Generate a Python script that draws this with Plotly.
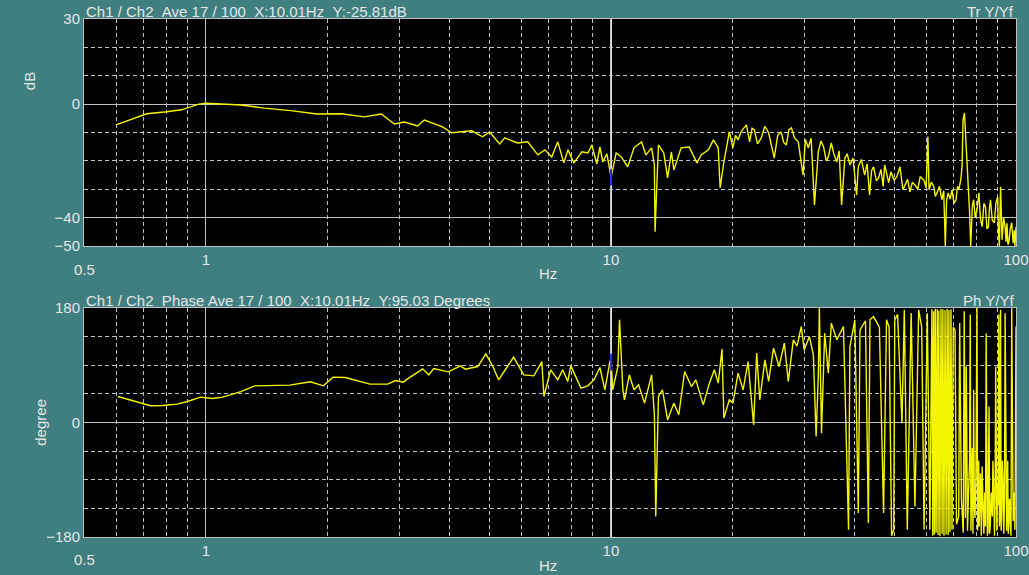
import plotly.graph_objects as go

# cursor readout
cursor_hz = 10.01
cursor_db = -25.81
cursor_deg = 95.03

# transfer function magnitude (Hz, dB)
mag_hz = [0.60, 0.714, 0.80, 0.87, 0.96, 1.0, 1.22, 1.39, 1.62, 1.88, 2.16, 2.46, 2.71, 2.92,
          3.09, 3.33, 3.46, 3.84, 4.04, 4.53, 4.82, 5.02, 5.31, 5.47, 5.88, 6.23, 6.60, 6.87,
          7.14, 7.39, 7.65, 7.83, 8.10, 8.48, 8.77, 8.97, 9.23, 9.39, 9.55, 9.77, 10.01, 10.3,
          10.6, 11.0, 11.4, 11.9, 12.2, 12.6, 12.8, 12.85, 13.0, 13.1, 13.5, 13.8, 14.1, 14.3,
          14.9, 15.6, 16.3, 16.7, 17.4, 17.9, 18.4, 18.6, 19.0, 19.6, 20.0, 20.3, 20.6, 21.0,
          21.6, 22.0, 22.3, 22.6, 23.0, 23.5, 24.0, 24.5, 25.3, 25.8, 26.3, 26.7, 27.1, 27.5,
          27.9, 28.4, 29.0, 29.8, 30.2, 30.7, 31.2, 31.8, 32.5, 33.0, 33.5, 34.0, 34.4, 35.0,
          35.5, 36.1, 36.6, 37.1, 37.8, 38.3, 38.9, 39.6, 40.4, 40.8, 41.5, 42.3, 42.9, 43.5,
          44.0, 44.5, 45.2, 45.8, 46.4, 47.0, 47.4, 48.0, 48.5, 49.1, 50.0, 50.8, 51.7, 52.6,
          53.2, 54.0, 54.7, 55.5, 56.3, 57.2, 58.0, 59.2, 60.0, 60.6, 61.0, 61.8, 62.7, 63.2,
          63.8, 64.7, 65.6, 66.3, 66.9, 67.4, 68.0, 68.8, 69.5, 70.3, 71.1, 71.7, 72.2, 73.0,
          73.6, 74.0, 74.6, 75.0, 75.5, 75.9, 76.3, 76.8, 77.3, 78.0, 78.6, 79.3, 80.1, 80.5,
          81.0, 81.7, 82.5, 83.3, 84.1, 84.8, 85.5, 86.0, 86.5, 87.4, 88.4, 89.2, 90.1, 90.5,
          91.0, 91.6, 92.4, 93.2, 94.0, 94.5, 95.0, 95.5, 96.0, 96.8, 97.6, 98.4, 99.0, 99.4,
          100.0]
mag_db = [-7.3, -3.4, -2.7, -2.0, 0.0, 0.3, -0.3, -1.4, -2.3, -3.5, -3.4, -4.5, -3.5, -7.0,
          -6.3, -7.7, -5.6, -8.0, -10.1, -9.4, -11.5, -9.8, -14.0, -11.9, -13.7, -13.3, -17.9, -16.1,
          -18.6, -13.3, -20.7, -16.1, -20.7, -16.8, -17.2, -14.4, -21.1, -15.1, -20.4, -17.5, -25.81, -17.2,
          -18.6, -22.1, -15.4, -13.3, -17.9, -15.4, -21.4, -45.0, -26.0, -14.4, -17.2, -26.0, -16.8, -23.2,
          -15.4, -15.1, -20.7, -17.9, -16.1, -12.6, -15.4, -29.5, -20.4, -9.8, -15.4, -11.0, -12.6, -9.5,
          -7.3, -13.3, -8.5, -9.1, -14.0, -11.9, -7.8, -10.1, -19.0, -11.0, -9.8, -13.5, -14.4, -9.0,
          -8.4, -12.0, -13.3, -25.0, -12.5, -15.4, -12.0, -35.5, -16.8, -13.0, -15.1, -20.0, -18.6, -13.7,
          -17.5, -20.4, -16.5, -35.5, -19.0, -17.5, -21.4, -19.0, -32.0, -22.1, -19.5, -25.0, -21.0, -32.0,
          -23.5, -22.1, -27.0, -26.0, -23.0, -29.0, -21.4, -25.5, -27.7, -23.9, -26.7, -25.6, -22.1, -30.2,
          -28.5, -26.5, -30.9, -27.5, -28.5, -30.0, -25.6, -26.7, -29.5, -11.5, -30.2, -27.5, -29.1, -32.5,
          -31.3, -29.0, -33.7, -30.5, -50.0, -34.0, -31.3, -33.5, -30.2, -35.0, -33.7, -29.0, -30.2, -27.0,
          -22.1, -5.6, -3.1, -10.1, -15.0, -20.7, -29.1, -38.0, -50.0, -36.0, -33.7, -40.0, -37.3, -33.0,
          -31.3, -40.5, -43.2, -35.0, -36.2, -44.0, -43.2, -36.5, -33.7, -41.0, -41.8, -35.0, -32.7, -45.0,
          -50.0, -29.1, -47.8, -40.0, -43.2, -48.5, -42.0, -49.5, -48.9, -44.0, -41.8, -49.0, -44.5, -50.0,
          -43.2]

# phase (Hz, degree)
ph_hz = [0.606, 0.686, 0.73, 0.78, 0.85, 0.90, 0.97, 1.04, 1.10, 1.22, 1.32, 1.61, 1.81, 1.95,
         2.06, 2.21, 2.54, 2.81, 2.94, 3.07, 3.14, 3.43, 3.55, 3.65, 3.97, 4.25, 4.37, 4.69,
         4.91, 5.11, 5.28, 5.75, 6.09, 6.45, 6.75, 6.83, 7.10, 7.39, 7.60, 7.82, 7.96, 8.43,
         8.77, 9.08, 9.39, 9.66, 9.94, 10.01, 10.1, 10.4, 10.5, 10.7, 10.8, 11.1, 11.4, 11.7,
         12.1, 12.6, 12.8, 12.9, 13.1, 13.4, 13.8, 14.3, 14.7, 15.2, 15.8, 16.2, 16.9, 17.5,
         18.0, 18.4, 18.8, 19.0, 19.6, 20.0, 20.6, 21.2, 21.8, 22.5, 22.9, 23.3, 24.0, 24.5,
         25.2, 26.0, 26.8, 27.4, 28.2, 28.8, 29.5, 30.0, 30.9, 31.6, 32.1, 32.5, 32.7, 33.1,
         33.7, 34.4, 35.0, 36.1, 36.8, 37.5, 38.6, 38.9, 40.0, 40.8, 41.2, 42.5, 43.2, 43.6,
         44.5, 46.0, 47.1, 47.9, 48.6, 49.3, 49.9, 50.2, 51.0, 52.3, 53.0, 53.9, 55.1, 56.3,
         57.5, 58.5, 59.3, 60.4, 61.3, 62.0, 62.3, 62.6, 62.9, 63.2, 63.5, 63.9, 64.2, 64.5,
         64.9, 65.3, 65.7, 66.0, 66.4, 66.8, 67.2, 67.6, 68.0, 68.3, 68.7, 69.1, 69.5, 70.0,
         70.7, 71.3, 72.2, 72.6, 73.3, 74.1,
         74.5, 75.0, 75.4, 75.9, 76.3, 76.8, 77.1, 77.4, 77.7, 78.0,
         78.3, 78.6, 78.9, 79.2, 79.6, 80.1, 80.4, 80.6, 80.9, 81.1,
         81.4, 81.7, 82.1, 82.5, 82.9, 83.3, 83.7, 84.1, 84.4, 84.7,
         85.0, 85.3, 85.8, 86.1, 86.4, 86.9, 87.4, 87.7, 88.0, 88.5,
         88.8, 89.1, 89.4, 89.7, 90.0, 90.4, 90.7, 91.0, 91.3, 91.6,
         91.9, 92.2, 92.6, 93.0, 93.3, 93.7, 94.0, 94.4, 94.8, 95.1,
         95.4, 95.7, 96.0, 96.4, 96.8, 97.2, 97.6, 98.0, 98.4, 98.9,
         99.4, 99.7, 100.0]
ph_deg = [40.9, 30.5, 26.3, 26.7, 28.9, 33.0, 39.9, 37.7, 39.9, 48.7, 57.7, 58.8, 64.0, 57.7,
          71.4, 70.7, 60.4, 60.4, 66.0, 63.5, 68.2, 84.4, 75.0, 84.9, 79.7, 89.1, 83.9, 88.0,
          108.0, 88.0, 67.1, 102.8, 75.0, 73.4, 95.9, 40.9, 82.9, 67.1, 82.9, 64.5, 89.1, 54.1,
          57.7, 67.1, 86.5, 51.4, 95.9, 95.03, 51.4, 88.0, 161.5, 51.4, 35.7, 75.0, 51.4, 59.3,
          30.5, 75.0, 12.1, -147.8, 40.9, 51.4, 4.2, 30.5, 12.1, 80.2, 56.6, 67.1, 27.8, 61.9,
          82.9, 61.9, 115.4, 6.9, 35.7, 30.5, 77.7, 51.4, 95.9, -3.6, 109.1, 35.7, 98.6, 64.5,
          117.0, 88.0, 124.8, 64.5, 130.0, 120.0, 150.9, 114.3, 135.2, 106.4, -22.0, 72.3, 179.8, -16.7,
          140.5, 77.7, 156.3, 130.0, 140.0, 150.9, -168.7, 119.5, 161.5, -142.4, 145.7, 160.0, -158.1, 161.5,
          166.6, 150.0, -142.4, 161.5, 150.0, -178.0, -168.7, 161.5, 170.0, -1.0, 177.2, -168.7, 172.0, -132.0,
          177.2, 150.0, -168.7, 172.0, -168.7, 178.0, -178.0, 175.0, -176.0, 179.0, -173.0, 178.0, -177.0, 176.0,
          -179.0, 179.0, -175.0, 178.0, -178.0, 177.0, -176.0, 179.0, -177.0, 177.0, -172.0, 178.0, -168.7, 150.0,
          145.7, -160.0, -147.8, 156.3, -120.0, -173.4,
          175.0, -150.0, 88.0, -170.0, -116.3, -60.0, 170.0, -170.0, -100.0, -40.0,
          -175.0, 51.4, -130.0, -150.0, -90.0, 179.8, -170.0, -120.0, -60.0, -163.5,
          -100.0, -80.0, -178.0, -69.2, -130.0, -175.0, -110.0, -163.5, 140.0, -100.0,
          -178.0, -170.0, 25.2, -175.0, -160.0, -110.0, -147.8, -60.0, -90.0, -178.0,
          -120.0, 88.0, -160.0, -170.0, -95.0, -130.0, 170.0, -163.5, -140.0, 177.2,
          -170.0, -150.0, -60.0, -100.0, -175.0, -121.5, 172.0, -150.0, -170.0, -120.0,
          -60.0, -175.0, -163.5, -120.0, -140.0, -178.0, 179.8, -130.0, -155.0, -110.0,
          -168.7, -20.0, 150.9]

bg = "#3f7f7f"
txt = "#e6e6e6"
font = dict(family="Liberation Sans, Arial", size=15, color=txt)
minor_hz = [0.6, 0.7, 0.8, 0.9, 2, 3, 4, 5, 6, 7, 8, 9, 20, 30, 40, 50, 60, 70, 80, 90]

fig = go.Figure()
fig.add_trace(go.Scatter(x=mag_hz, y=mag_db, mode="lines", xaxis="x", yaxis="y",
                         line=dict(color="#f5f500", width=1.4), showlegend=False))
fig.add_trace(go.Scatter(x=ph_hz, y=ph_deg, mode="lines", xaxis="x2", yaxis="y2",
                         line=dict(color="#f5f500", width=1.4), showlegend=False))
# cursor marks
fig.add_trace(go.Scatter(x=[cursor_hz], y=[cursor_db], mode="markers", xaxis="x", yaxis="y",
                         marker=dict(symbol="line-ns", size=12, line=dict(color="#2020ff", width=2)),
                         showlegend=False))
fig.add_trace(go.Scatter(x=[cursor_hz], y=[cursor_deg], mode="markers", xaxis="x2", yaxis="y2",
                         marker=dict(symbol="line-ns", size=12, line=dict(color="#2020ff", width=2)),
                         showlegend=False))

def xax(anchor):
    return dict(type="log", range=[-0.30103, 2], anchor=anchor, automargin=False,
                tickvals=[1, 10, 100], ticktext=["1", "10", "100"], ticks="",
                showgrid=True, gridcolor="#c0c0c0", gridwidth=1,
                minor=dict(tickvals=minor_hz, showgrid=True, gridcolor="#b8c4c4",
                           griddash="4px,3px", gridwidth=1, ticks=""),
                showline=True, mirror=True, linecolor="#c0c0c0", linewidth=1,
                zeroline=False, tickfont=font, fixedrange=True)

fig.update_layout(
    width=1029, height=575,
    paper_bgcolor=bg, plot_bgcolor="black",
    margin=dict(l=84, r=13, t=19, b=38),
    font=font,
    xaxis=xax("y"),
    xaxis2=xax("y2"),
    yaxis=dict(domain=[0.5618, 1], range=[-50, 30], tickvals=[30, 0, -40, -50],
               ticks="", showgrid=True, gridcolor="#c0c0c0", zeroline=False, automargin=False,
               minor=dict(tickvals=[20, 10, -10, -20, -30], showgrid=True, gridcolor="#b8c4c4",
                          griddash="4px,3px", ticks=""),
               showline=True, mirror=True, linecolor="#c0c0c0", tickfont=font),
    yaxis2=dict(domain=[0, 0.442], range=[-180, 180], tickvals=[180, 0, -180],
                ticks="", showgrid=True, gridcolor="#c0c0c0", zeroline=False, automargin=False,
                minor=dict(tickvals=[135, 90, 45, -45, -90, -135], showgrid=True,
                           gridcolor="#b8c4c4", griddash="4px,3px", ticks=""),
                showline=True, mirror=True, linecolor="#c0c0c0", tickfont=font),
)

# bright cursor line at the cursor frequency
for xr, yr in [("x", "y domain"), ("x2", "y2 domain")]:
    fig.add_shape(type="line", xref=xr, yref=yr, x0=cursor_hz, x1=cursor_hz, y0=0, y1=1,
                  layer="below", line=dict(color="white", width=1.5))

sp = "\u00a0\u00a0"
top_head = f"Ch1 / Ch2{sp}Ave 17 / 100{sp}X:{cursor_hz:.2f}Hz{sp}Y:{cursor_db:.2f}dB"
bot_head = f"Ch1 / Ch2{sp}Phase Ave 17 / 100{sp}X:{cursor_hz:.2f}Hz{sp}Y:{cursor_deg:.2f} Degrees"

ann = [
    dict(text=top_head, x=0, y=1, xanchor="left", yanchor="bottom", yshift=-3),
    dict(text="Tr Y/Yf", x=1, y=1, xanchor="right", yanchor="bottom", yshift=-3),
    dict(text=bot_head, x=0, y=0.442, xanchor="left", yanchor="bottom", yshift=-3),
    dict(text="Ph Y/Yf", x=1, y=0.442, xanchor="right", yanchor="bottom", yshift=-3),
    dict(text="dB", x=-0.059, y=0.88, xanchor="center", yanchor="middle", textangle=-90),
    dict(text="degree", x=-0.047, y=0.221, xanchor="center", yanchor="middle", textangle=-90),
    dict(text="Hz", x=0.498, y=0.5618, xanchor="center", yanchor="top", yshift=-17),
    dict(text="Hz", x=0.498, y=0, xanchor="center", yanchor="top", yshift=-18),
    dict(text="0.5", x=0, y=0.5618, xanchor="center", yanchor="top", yshift=-13),
    dict(text="0.5", x=0, y=0, xanchor="center", yanchor="top", yshift=-12),
]
for a in ann:
    a.update(xref="paper", yref="paper", showarrow=False, font=font)
    fig.add_annotation(**a)

# page body has a default margin; drop it so the figure fills the window
fig.write_html("out.html", config={"displayModeBar": False},
               post_script="document.body.style.margin='0';")
